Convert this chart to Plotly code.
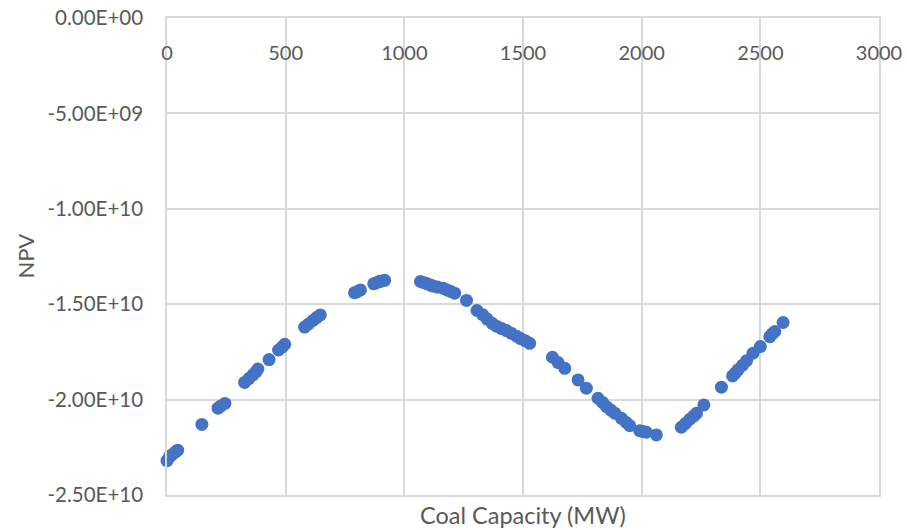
import plotly.graph_objects as go

capacity_mw = [0, 10, 20, 35, 45, 147, 215, 225, 244, 327, 345, 362, 375, 383, 430, 470, 485, 496,
               580, 595, 615, 630, 646, 790, 800, 815, 871, 885, 896, 905, 917,
               1068, 1080, 1095, 1110, 1121, 1140, 1163, 1180, 1195, 1212, 1262, 1306, 1330, 1349,
               1370, 1388, 1410, 1430, 1450, 1473, 1490, 1510, 1528,
               1624, 1648, 1676, 1732, 1767, 1816, 1835, 1852, 1870, 1887, 1915, 1935, 1950,
               1992, 2005, 2020, 2062,
               2167, 2185, 2203, 2220, 2231, 2262, 2336, 2383, 2395, 2406, 2425, 2442, 2469,
               2500, 2540, 2550, 2561, 2596]
npv_e10 = [-2.32, -2.30, -2.29, -2.275, -2.265, -2.13, -2.045, -2.035, -2.02, -1.91, -1.89, -1.87,
           -1.855, -1.84, -1.79, -1.74, -1.725, -1.71,
           -1.62, -1.605, -1.585, -1.57, -1.556, -1.44, -1.435, -1.425, -1.393, -1.386, -1.38, -1.378, -1.375,
           -1.381, -1.386, -1.392, -1.40, -1.405, -1.41, -1.416, -1.425, -1.433, -1.442, -1.48, -1.533,
           -1.555, -1.578, -1.60, -1.615, -1.628, -1.638, -1.652, -1.668, -1.68, -1.692, -1.705,
           -1.778, -1.806, -1.836, -1.897, -1.94, -1.993, -2.015, -2.037, -2.055, -2.071, -2.098,
           -2.12, -2.137, -2.163, -2.167, -2.171, -2.185,
           -2.145, -2.125, -2.103, -2.085, -2.072, -2.028, -1.935, -1.876, -1.86, -1.844, -1.82,
           -1.796, -1.757, -1.722, -1.67, -1.655, -1.643, -1.596]
npv = [v * 1e10 for v in npv_e10]

x_ticks = [0, 500, 1000, 1500, 2000, 2500, 3000]
y_ticks = [0, -5e9, -1e10, -1.5e10, -2e10, -2.5e10]
y_tick_labels = ["0.00E+00", "-5.00E+09", "-1.00E+10", "-1.50E+10", "-2.00E+10", "-2.50E+10"]

FONT = "Lato"
GREY = "#595959"
GRID = "#d9d9d9"

fig = go.Figure(go.Scatter(
    x=capacity_mw, y=npv, mode="markers",
    marker=dict(color="#4472C4", size=13, line=dict(width=0)),
    cliponaxis=False,
))

fig.update_layout(
    width=907, height=530,
    margin=dict(l=167, r=28, t=18, b=35, autoexpand=False),
    paper_bgcolor="white", plot_bgcolor="white",
    showlegend=False,
    font=dict(family=FONT, color=GREY),
    annotations=[
        dict(text="Coal Capacity (MW)", x=0.5, y=0, xref="paper", yref="paper",
             yshift=-20, xanchor="center", yanchor="middle", showarrow=False,
             font=dict(family=FONT, size=23.5, color=GREY)),
        dict(text="NPV", x=0, y=0.5, xref="paper", yref="paper", xshift=-142,
             xanchor="center", yanchor="middle", textangle=-90, showarrow=False,
             font=dict(family=FONT, size=22, color=GREY)),
    ],
)
fig.update_xaxes(
    range=[0, 3000], tickvals=x_ticks, side="top", automargin=False,
    ticklabelposition="inside", ticklabelstandoff=29, ticklabeloverflow="allow",
    tickfont=dict(size=20, color=GREY, family=FONT),
    showgrid=True, gridcolor=GRID, gridwidth=1.5,
    showline=True, linecolor=GRID, linewidth=1.5, mirror=True,
    zeroline=False, ticks="",
)
fig.update_yaxes(
    range=[-2.5e10, 0], tickvals=y_ticks, ticktext=y_tick_labels, automargin=False,
    tickfont=dict(size=20.5, color=GREY, family=FONT),
    ticklabelstandoff=18, ticklabeloverflow="allow",
    showgrid=True, gridcolor=GRID, gridwidth=1.5,
    showline=True, linecolor=GRID, linewidth=1.5, mirror=True,
    zeroline=False, ticks="",
)

fig.write_html("out.html", config={"displayModeBar": False},
               post_script="document.body.style.margin='0';")
